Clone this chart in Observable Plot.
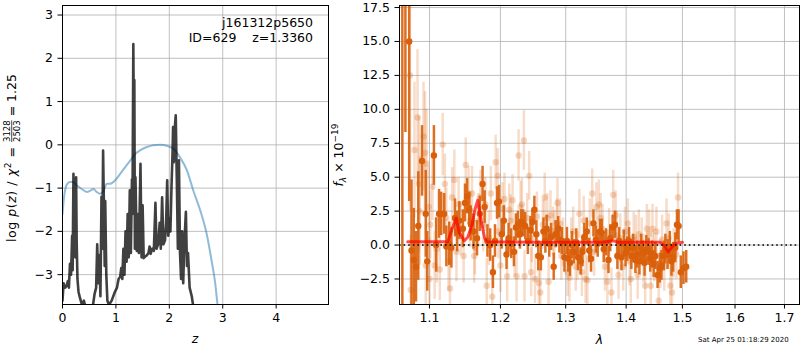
<!DOCTYPE html>
<html><head><meta charset="utf-8">
<script src="https://cdn.jsdelivr.net/npm/d3@7"></script>
<script src="https://cdn.jsdelivr.net/npm/@observablehq/plot@0.6"></script>
<style>
html,body{margin:0;padding:0;background:#fff;}
#fig{position:relative;width:800px;height:350px;overflow:hidden;background:#fff;}
#fig svg{position:absolute;top:0;}
text{white-space:pre;}
</style></head><body><div id="fig"></div>
<script>
// ---- left panel: redshift probability ----
const pzZ = [0.00,0.02,0.05,0.08,0.10,0.12,0.14,0.16,0.18,0.19,0.205,0.215,0.23,0.24,0.255,0.265,0.28,0.30,0.33,0.36,0.40,0.43,0.50,0.56,0.60,0.63,0.65,0.67,0.69,0.71,0.73,0.745,0.76,0.775,0.79,0.80,0.82,0.84,0.87,0.92,0.98,1.02,1.05,1.08,1.10,1.12,1.14,1.16,1.18,1.20,1.22,1.24,1.26,1.28,1.30,1.31,1.326,1.335,1.345,1.355,1.366,1.39,1.41,1.43,1.46,1.48,1.50,1.52,1.55,1.58,1.61,1.63,1.65,1.68,1.71,1.74,1.76,1.79,1.82,1.84,1.865,1.89,1.92,1.94,1.96,1.98,2.00,2.02,2.04,2.06,2.07,2.085,2.10,2.12,2.14,2.16,2.18,2.20,2.22,2.24,2.26,2.28,2.31,2.33,2.35,2.38,2.42,2.45];
const pzLog = [-3.60,-3.20,-3.30,-3.25,-3.15,-3.30,-2.75,-3.00,-2.10,-2.90,-0.67,-1.80,-1.20,-2.60,-0.75,-2.20,-3.10,-3.40,-3.55,-3.68,-3.60,-3.75,-3.90,-3.80,-3.45,-3.30,-2.30,-3.20,-2.55,-3.50,-1.20,-2.40,-0.13,-1.40,-2.80,-1.30,-3.00,-3.60,-3.70,-3.60,-3.40,-3.30,-3.10,-3.05,-2.85,-3.10,-2.40,-3.00,-2.00,-2.70,-1.60,-2.60,-1.05,-2.50,-0.80,-1.60,2.33,0.50,1.50,-2.40,-0.75,-2.45,-1.60,-2.50,-0.44,-2.60,-1.40,-2.62,-2.58,-2.55,-2.50,-2.35,-2.52,-2.40,-2.45,-1.34,-2.40,-2.30,-1.80,-2.40,-1.21,-2.30,-2.20,-1.80,-0.82,-2.10,-1.70,-2.00,-1.00,-0.20,0.41,-0.40,0.35,0.68,-0.80,-2.40,-0.36,-2.50,-3.10,-2.00,-3.20,-2.30,-1.55,-2.80,-2.50,-3.30,-3.50,-3.75];
const priorZ = [0,0.03,0.08,0.14,0.2,0.27,0.36,0.455,0.52,0.58,0.64,0.70,0.77,0.83,0.89,0.985,1.08,1.17,1.27,1.36,1.45,1.58,1.70,1.83,1.95,2.08,2.20,2.33,2.45,2.58,2.70,2.79,2.86,2.90,2.95];
const priorLog = [-1.6,-1.2,-0.92,-0.86,-0.86,-0.94,-1.02,-1.09,-1.06,-1.02,-1.09,-1.13,-1.06,-0.9,-0.9,-0.82,-0.67,-0.52,-0.36,-0.21,-0.13,-0.05,-0.01,0,-0.02,-0.09,-0.29,-0.59,-1.06,-1.52,-2.06,-2.67,-3.21,-3.67,-4.2];
const zTicks = [0,1,2,3,4];
const logTicks = [-3,-2,-1,0,1,2,3];

// ---- right panel: spectrum ----
const darkLam = [1.064,1.068,1.073,1.076,1.079,1.082,1.085,1.090,1.095,1.097,
1.106,1.109,1.113,1.116,1.120,1.123,1.127,1.130,1.135,1.138,
1.141,1.146,1.149,1.152,1.155,1.157,1.161,1.166,1.170,1.174,
1.177,1.181,1.185,1.189,1.192,1.195,1.198,1.202,1.205,1.209,
1.212,1.216,1.220,1.223,1.226,1.229,1.231,1.234,1.237,1.241,
1.245,1.248,1.251,1.254,1.257,1.261,1.265,1.268,1.270,1.274,
1.277,1.281,1.284,1.288,1.290,1.294,1.298,1.302,1.304,1.307,
1.310,1.313,1.317,1.320,1.324,1.327,1.330,1.334,1.338,1.341,
1.345,1.349,1.352,1.356,1.359,1.362,1.366,1.370,1.373,1.377,
1.381,1.385,1.388,1.392,1.396,1.399,1.402,1.405,1.409,1.412,
1.416,1.419,1.423,1.426,1.429,1.432,1.435,1.439,1.442,1.445,
1.448,1.451,1.455,1.459,1.462,1.466,1.469,1.473,1.477,1.480,
1.483,1.487,1.490,1.493,1.497,1.502,1.507];
const darkFlux = [20,18,15.0,-0.4,-1.1,-1.6,1.4,6.2,2.3,-1.2,
6.6,0.0,2.3,2.3,2.3,-0.1,0.1,-0.2,2.0,1.0,
1.8,1.2,3.1,3.6,2.6,1.6,1.0,0.5,2.3,4.5,
2.8,0.3,0.0,-2.0,0.3,3.1,3.2,0.8,1.8,-0.7,
0.5,0.1,-0.5,1.3,1.5,0.8,1.7,1.6,1.4,0.3,
1.1,1.7,2.6,0.8,-0.8,-0.9,1.0,0.3,1.2,0.1,
0.6,-1.6,0.8,1.2,0.4,0.3,-0.9,0.3,-1.0,-1.3,
0.0,-0.5,0.2,-0.9,-1.2,-0.5,0.6,1.0,-0.4,-1.0,
1.6,0.4,0.1,1.0,0.9,-0.3,0.2,-1.1,0.5,1.3,
1.5,-0.8,0.3,-0.9,0.1,-0.6,-0.3,0.3,-0.8,-0.2,
-1.1,-0.7,-1.2,-0.2,-0.6,-1.3,-0.3,-0.5,-1.0,-0.7,
-1.4,-0.8,-2.2,-1.7,-1.5,-0.8,-0.3,-0.7,-0.1,-1.2,
-0.9,-0.2,1.5,1.4,-2.0,-1.7,-1.6];
const darkErr = [25,9.7,11.8,5.2,3.8,2.6,4.0,2.6,3.2,2.2,
2.2,2.0,1.8,1.6,1.5,1.5,1.6,1.5,1.4,1.5,
1.4,1.4,1.4,1.3,1.3,1.3,1.3,1.3,1.3,1.3,
1.2,1.2,1.2,1.2,1.2,1.2,1.2,1.1,1.1,1.1,
1.1,1.1,1.1,1.0,1.0,1.1,0.9,1.0,1.0,1.0,
1.0,0.9,1.0,1.0,1.1,1.0,1.0,0.9,1.0,1.0,
1.0,1.0,1.0,0.9,1.0,1.0,1.1,1.0,1.0,1.0,
1.0,0.9,1.0,1.0,1.0,1.1,1.0,1.0,0.9,1.0,
1.0,1.0,1.0,0.9,1.0,1.0,1.0,1.0,1.0,0.9,
1.0,1.0,1.0,1.0,1.0,1.0,0.9,1.0,1.0,1.0,
1.0,1.0,1.0,1.0,0.9,1.0,1.0,1.0,1.0,1.0,
1.0,1.0,1.0,1.1,1.1,1.1,1.1,1.1,1.1,1.1,
1.1,1.1,1.1,1.2,1.2,1.2,1.2];
const lightLam = [1.074,1.075,1.080,1.084,1.086,1.087,1.092,1.094,1.096,1.099,
1.095,1.100,1.101,1.104,1.107,1.110,1.114,1.118,1.121,1.123,
1.126,1.128,1.131,1.134,1.137,1.140,1.143,1.147,1.150,1.154,
1.156,1.159,1.162,1.163,1.168,1.171,1.175,1.178,1.180,1.183,
1.186,1.188,1.193,1.196,1.197,1.200,1.203,1.206,1.210,1.213,
1.215,1.218,1.221,1.224,1.227,1.230,1.232,1.235,1.236,1.240,
1.243,1.246,1.247,1.252,1.255,1.258,1.260,1.264,1.267,1.271,
1.273,1.276,1.280,1.282,1.286,1.287,1.291,1.293,1.296,1.303,
1.306,1.309,1.312,1.316,1.319,1.322,1.326,1.329,1.332,1.335,
1.339,1.343,1.346,1.350,1.354,1.357,1.360,1.364,1.368,1.371,
1.375,1.378,1.382,1.384,1.387,1.390,1.395,1.398,1.403,1.406,
1.408,1.413,1.417,1.420,1.422,1.427,1.430,1.433,1.436,1.440,
1.443,1.446,1.449,1.453,1.457,1.460,1.463,1.467,1.471,1.475,
1.478,1.481,1.484,1.489,1.492];
const lightFlux = [12.5,-3.3,7.0,9.4,4.5,2.5,8.0,6.8,6.0,2.8,
-1.5,-2.5,1.5,4.3,-1.5,-0.3,-1.8,7.4,4.5,2.0,
-1.2,-3.2,3.5,4.8,-0.5,3.0,1.2,-0.8,5.9,3.8,
1.8,3.8,-0.8,-0.2,1.8,3.5,1.5,3.0,-3.0,0.5,
3.8,-3.8,6.1,5.1,1.0,-1.5,2.7,3.4,-2.3,2.6,
1.8,3.3,-0.5,-2.3,6.6,2.8,3.0,7.7,-2.3,2.0,
5.1,-2.0,0.5,-2.5,2.1,-2.8,-3.5,1.5,3.5,2.0,
-2.7,2.2,1.0,0.7,1.6,3.1,1.6,-0.8,0.2,-2.0,
-2.4,0.2,1.0,-1.6,-0.8,2.3,-2.0,1.8,-2.5,-2.6,
1.6,3.8,-0.5,2.8,3.0,2.0,1.2,-1.6,-2.7,0.9,
-3.5,3.7,2.2,0.7,-2.2,0.5,-1.6,1.0,1.6,-1.2,
-2.5,0.6,0.4,-2.2,0.8,0.2,-1.0,-3.0,1.2,0.8,
-3.0,1.2,-0.9,1.0,-4.1,-1.4,0.4,-1.6,1.6,0.5,
-3.0,-3.5,-0.6,-0.7,3.5];
const lightErr = [10,4,5,5,5,4,4,4.5,4,3,
3,3,2.5,2.5,2.5,2.5,2.3,2.3,2.2,2.2,
2.2,2.2,2.2,2.2,2.2,2.0,2.0,2.0,2.0,2.0,
2.0,2.0,2.0,2.0,2.0,2.0,2.0,2.0,2.0,2.0,
2.0,2.0,2.0,2.0,2.0,2.0,1.9,1.9,1.9,1.9,
1.9,1.9,1.9,1.9,1.9,1.9,1.9,2.2,1.9,1.8,
1.8,1.8,1.8,1.8,1.8,1.8,1.8,1.8,1.8,1.8,
1.8,1.8,1.8,1.8,1.8,1.8,1.8,1.8,1.8,1.8,
1.8,1.8,1.8,1.8,1.8,1.8,1.8,1.8,1.8,1.8,
1.8,1.8,1.8,1.8,1.8,1.8,1.8,1.8,1.8,1.8,
1.8,1.8,1.8,1.8,1.8,1.8,1.8,1.8,1.8,1.8,
1.8,1.8,1.8,1.8,1.8,1.8,1.8,1.8,1.8,1.8,
1.8,1.8,1.8,1.8,1.8,1.8,1.8,1.8,1.8,1.8,
1.8,1.8,1.8,1.8,1.8];
const modelLam = [1.071,1.125,1.131,1.1365,1.141,1.148,1.153,1.159,1.163,1.167,1.172,1.177,1.181,1.25,1.30,1.36,1.375,1.38,1.385,1.40,1.46,1.468,1.474,1.480,1.486,1.50];
const modelFlux = [0.25,0.25,1.2,1.98,0.9,0.32,0.6,1.5,2.6,3.29,1.8,0.5,0.25,0.2,0.2,0.2,0.3,0.3,0.2,0.2,0.2,-0.1,-0.5,-0.2,0.1,0.2];
const lamTicks = [1.1,1.2,1.3,1.4,1.5,1.6,1.7];
const fluxTicks = [-2.5,0,2.5,5,7.5,10,12.5,15,17.5];

const FONT = "DejaVu Sans";
const ORANGE = "#d95f0a";
const gridStyle = {stroke:"#b0b0b0", strokeOpacity:1, strokeWidth:0.8};

const pz = pzZ.map((z,i)=>({z, v:pzLog[i]}));
const prior = priorZ.map((z,i)=>({z, v:priorLog[i]}));
const dark = darkLam.map((l,i)=>({l, f:darkFlux[i], e:darkErr[i]}));
const light = lightLam.map((l,i)=>({l, f:lightFlux[i], e:lightErr[i]}));
const model = modelLam.map((l,i)=>({l, f:modelFlux[i]}));

const fig = document.getElementById("fig");

const left = Plot.plot({
  width: 330, height: 350, marginLeft: 62, marginRight: 2, marginTop: 5, marginBottom: 46,
  style: {fontFamily: FONT, fontSize: "12.5px", background: "transparent", overflow: "visible", color:"black"},
  x: {domain: [0, 4.98]},
  y: {domain: [-3.69, 3.22]},
  marks: [
    Plot.gridX(zTicks, gridStyle),
    Plot.gridY(logTicks, gridStyle),
    Plot.line(prior, {x:"z", y:"v", stroke:"#1f77b4", strokeOpacity:0.5, strokeWidth:2, curve:"monotone-x", clip:true}),
    Plot.line(pz, {x:"z", y:"v", stroke:"black", strokeOpacity:0.75, strokeWidth:2.6, clip:true}),
    Plot.axisX(zTicks, {tickSize:4.5, tickPadding:4, label:null, tickFormat:d3.format("d")}),
    Plot.axisY(logTicks, {tickSize:4.5, tickPadding:5, label:null, tickFormat:d3.format("d")}),
    Plot.frame({stroke:"black", strokeWidth:1})
  ]
});
left.style.left = "0px";
fig.appendChild(left);

const right = Plot.plot({
  width: 470, height: 350, marginLeft: 69, marginRight: 1, marginTop: 5, marginBottom: 46,
  style: {fontFamily: FONT, fontSize: "12.5px", background: "transparent", overflow: "visible", color:"black"},
  x: {type: "log", domain: [1.0603, 1.7316]},
  y: {domain: [-4.38, 17.65]},
  marks: [
    Plot.gridX(lamTicks, gridStyle),
    Plot.gridY(fluxTicks, gridStyle),
    Plot.ruleX(light, {x:"l", y1:d=>d.f-d.e, y2:d=>d.f+d.e, stroke:ORANGE, strokeOpacity:0.22, strokeWidth:2.5, clip:true}),
    Plot.dot(light, {x:"l", y:"f", r:3.2, fill:ORANGE, fillOpacity:0.25, stroke:"none", clip:true}),
    Plot.ruleX(dark, {x:"l", y1:d=>d.f-d.e, y2:d=>d.f+d.e, stroke:ORANGE, strokeOpacity:0.9, strokeWidth:2.5, clip:true}),
    Plot.dot(dark, {x:"l", y:"f", r:3.2, fill:ORANGE, stroke:"none", clip:true}),
    Plot.line(model, {x:"l", y:"f", stroke:"red", strokeOpacity:0.7, strokeWidth:3, clip:true}),
    Plot.ruleY([0], {stroke:"black", strokeWidth:1.6, strokeDasharray:"1.6,3", clip:true}),
    Plot.axisX(lamTicks, {tickSize:4.5, tickPadding:4, label:null, tickFormat:d3.format(".1f")}),
    Plot.axisY(fluxTicks, {tickSize:4.5, tickPadding:5, label:null, tickFormat:d3.format(".1f")}),
    Plot.frame({stroke:"black", strokeWidth:1})
  ]
});
right.style.left = "330px";
fig.appendChild(right);

// ---- text: labels and annotations ----
const L = d3.select(left), R = d3.select(right);
function txt(sel, x, y, anchor, size){
  return sel.append("text").attr("x", x).attr("y", y).attr("text-anchor", anchor)
    .style("font-family", FONT).style("font-size", size + "px").attr("fill", "black").style("white-space","pre");
}
txt(L, 313, 27, "end", 12.5).text("j161312p5650");
txt(L, 313, 42, "end", 12.5).text("ID=629    z=1.3360");
txt(L, 195, 343, "middle", 12.5).style("font-style","italic").text("z");
txt(R, 269.5, 344, "middle", 12.5).style("font-style","italic").text("λ");
txt(R, 368, 342, "start", 7).text("Sat Apr 25 01:18:29 2020");

// left y-label with stacked fraction (mathtext-like spacing)
(function(){
  const g = L.append("g").attr("transform", "translate(16,242) rotate(-90)");
  const t1 = txt(g, 0, 0, "start", 12.5).attr("textLength", 95).attr("lengthAdjust", "spacing");
  t1.append("tspan").text("log ");
  t1.append("tspan").style("font-style","italic").text("p");
  t1.append("tspan").text("(");
  t1.append("tspan").style("font-style","italic").text("z");
  t1.append("tspan").text(") / ");
  t1.append("tspan").style("font-style","italic").text("χ");
  t1.append("tspan").style("font-size","9px").attr("dy", -5).text("2");
  t1.append("tspan").attr("dy", 5).text(" =");
  const x = 100;
  const num = txt(g, x, -6.5, "start", 8.5).text("3128");
  const den = txt(g, x, 3.5, "start", 8.5).text("2503");
  const w = Math.max(num.node().getComputedTextLength(), den.node().getComputedTextLength());
  g.append("line").attr("x1", x).attr("x2", x + w).attr("y1", -4.3).attr("y2", -4.3).attr("stroke","black").attr("stroke-width",0.7);
  txt(g, x + w + 4, 0, "start", 12.5).text("= 1.25");
})();

// right y-label
(function(){
  const g = R.append("g").attr("transform", "translate(13,155) rotate(-90)");
  const t = txt(g, 0, 0, "middle", 12.5);
  t.append("tspan").style("font-style","italic").text("f");
  t.append("tspan").style("font-style","italic").style("font-size","9px").attr("dy", 3).text("λ");
  t.append("tspan").attr("dy", -3).text(" × 10");
  t.append("tspan").style("font-size","9px").attr("dy", -5).text("−19");
})();
</script>
</body></html>
